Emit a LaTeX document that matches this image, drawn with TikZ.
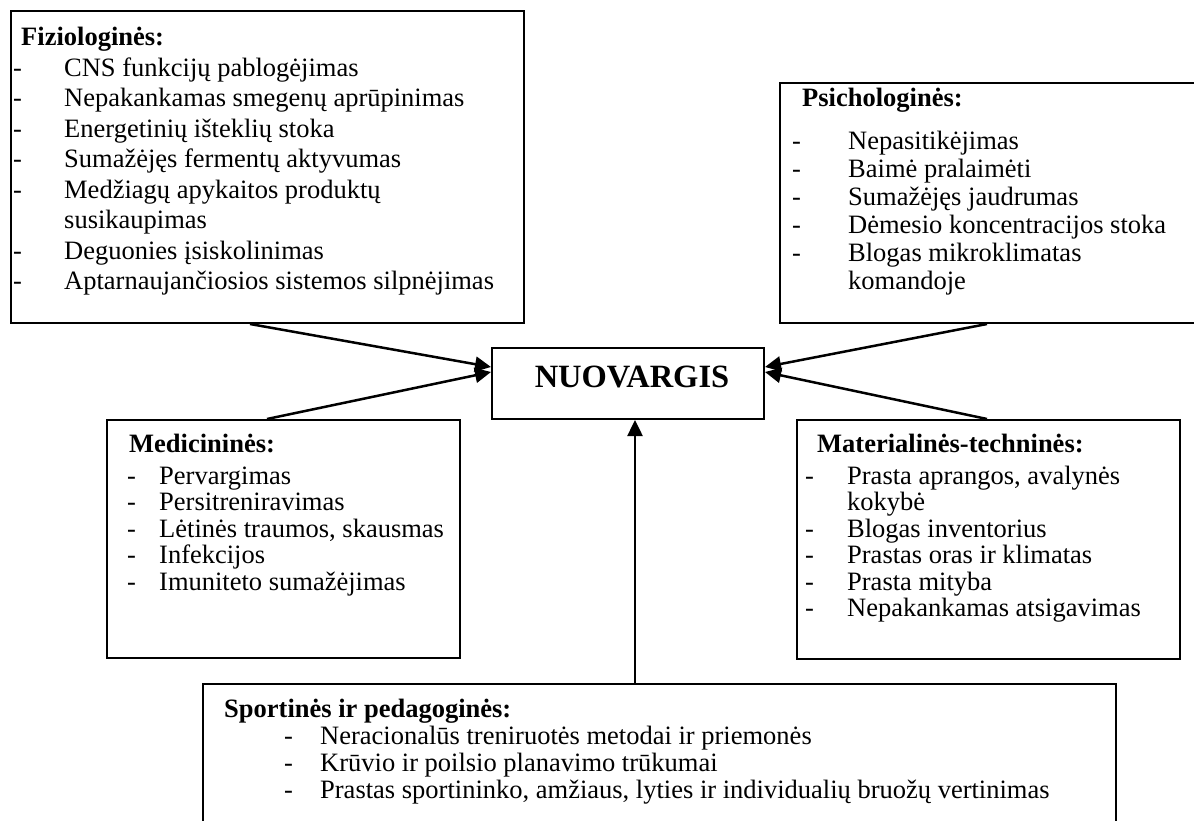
\documentclass[tikz,border=0pt]{standalone}
\usepackage{fontspec}
\setmainfont{Liberation Serif}
\usetikzlibrary{arrows.meta}
\tikzset{
  box/.style={draw, line width=2pt, anchor=north west, inner sep=0pt, rectangle},
  arr/.style={line width=2.5pt, -{Triangle[length=16pt,width=15pt]}},
  txt/.style={anchor=base west, inner sep=0pt},
}
\newcommand\dl[2]{\makebox[#1][l]{-}#2}
\begin{document}
\begin{tikzpicture}[x=1pt,y=-1pt]
\useasboundingbox (0,0) rectangle (1194,821);
% boxes
\node[box, minimum width=513pt, minimum height=312pt] (fiz) at (10,10) {};
\node[box, minimum width=420pt, minimum height=240pt] (psi) at (779,82) {};
\node[box, minimum width=272pt, minimum height=71pt] (nuo) at (491,347) {};
\node[box, minimum width=353pt, minimum height=238pt] (med) at (106,419) {};
\node[box, minimum width=383pt, minimum height=239pt] (mat) at (796,419) {};
\node[box, minimum width=913pt, minimum height=160pt] (spo) at (202,683) {};
% texts
\node[txt, font=\fontsize{26.5}{30.5}\selectfont] (fizt) at (13,46) {\begin{tabular}[t]{@{}l@{}}
\hspace*{8pt}\textbf{Fiziologinės:}\\
\dl{51pt}{CNS funkcijų pablogėjimas}\\
\dl{51pt}{Nepakankamas smegenų aprūpinimas}\\
\dl{51pt}{Energetinių išteklių stoka}\\
\dl{51pt}{Sumažėjęs fermentų aktyvumas}\\
\dl{51pt}{Medžiagų apykaitos produktų}\\
\hspace*{51pt}susikaupimas\\
\dl{51pt}{Deguonies įsiskolinimas}\\
\dl{51pt}{Aptarnaujančiosios sistemos silpnėjimas}
\end{tabular}};
\node[txt, font=\fontsize{26.5}{28}\selectfont] (psit) at (792,107) {\begin{tabular}[t]{@{}l@{}}
\hspace*{10pt}\textbf{Psichologinės:}\\[15pt]
\dl{56pt}{Nepasitikėjimas}\\
\dl{56pt}{Baimė pralaimėti}\\
\dl{56pt}{Sumažėjęs jaudrumas}\\
\dl{56pt}{Dėmesio koncentracijos stoka}\\
\dl{56pt}{Blogas mikroklimatas}\\
\hspace*{56pt}komandoje
\end{tabular}};
\node[txt, font=\fontsize{32.5}{36}\selectfont\bfseries, anchor=base] (nuot) at (632,387) {NUOVARGIS};
\node[txt, font=\fontsize{26.5}{26.5}\selectfont] (medt) at (127,452) {\begin{tabular}[t]{@{}l@{}}
\hspace*{2pt}\textbf{Medicininės:}\\[5.5pt]
\dl{32pt}{Pervargimas}\\
\dl{32pt}{Persitreniravimas}\\
\dl{32pt}{Lėtinės traumos, skausmas}\\
\dl{32pt}{Infekcijos}\\
\dl{32pt}{Imuniteto sumažėjimas}
\end{tabular}};
\node[txt, font=\fontsize{26.5}{26.5}\selectfont] (matt) at (805,452) {\begin{tabular}[t]{@{}l@{}}
\hspace*{12pt}\textbf{Materialinės-techninės:}\\[5.5pt]
\dl{42pt}{Prasta aprangos, avalynės}\\
\hspace*{42pt}kokybė\\
\dl{42pt}{Blogas inventorius}\\
\dl{42pt}{Prastas oras ir klimatas}\\
\dl{42pt}{Prasta mityba}\\
\dl{42pt}{Nepakankamas atsigavimas}
\end{tabular}};
\node[txt, font=\fontsize{26.5}{27}\selectfont] (spot) at (224,717) {\begin{tabular}[t]{@{}l@{}}
\textbf{Sportinės ir pedagoginės:}\\
\hspace*{60pt}\dl{36pt}{Neracionalūs treniruotės metodai ir priemonės}\\
\hspace*{60pt}\dl{36pt}{Krūvio ir poilsio planavimo trūkumai}\\
\hspace*{60pt}\dl{36pt}{Prastas sportininko, amžiaus, lyties ir individualių bruožų vertinimas}
\end{tabular}};
% connectors
\draw[arr] ([xshift=240pt]fiz.south west) -- ([yshift=16.5pt]nuo.west);
\draw[arr] ([xshift=161pt]med.north west) -- ([yshift=11.5pt]nuo.west);
\draw[arr] ([xshift=208pt]psi.south west) -- ([yshift=16.5pt]nuo.east);
\draw[arr] ([xshift=191pt]mat.north west) -- ([yshift=11.5pt]nuo.east);
\draw[arr] ([xshift=7pt]nuo.south |- spo.north) -- ([xshift=7pt]nuo.south);
\end{tikzpicture}
\end{document}
